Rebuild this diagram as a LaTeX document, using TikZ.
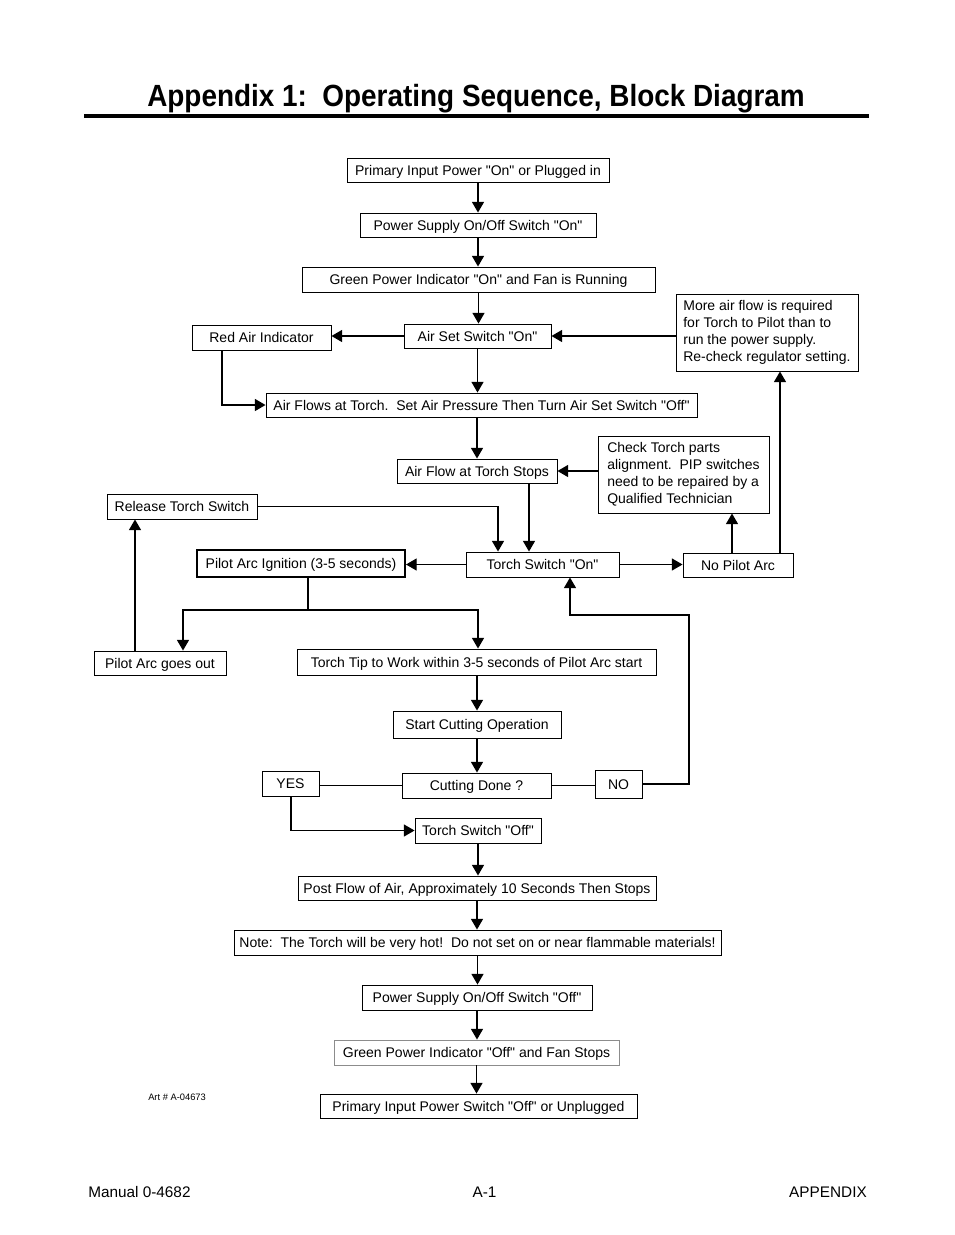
\documentclass[tikz,border=0pt]{standalone}
\usepackage{fontspec}
\setmainfont{Liberation Sans}
\newfontfamily\lsans{Liberation Sans}
\usetikzlibrary{arrows.meta,calc}
\frenchspacing
\begin{document}
\begin{tikzpicture}[x=0.75pt,y=-0.75pt,
  base/.style={draw,line width=0.7pt,inner sep=0pt,font=\lsans\fontsize{10.5}{12.75}\selectfont},
  box/.style={base,text height=7.6pt,text depth=0pt},
  wh/.style 2 args={minimum width=#1*0.75pt,minimum height=#2*0.75pt},
  multi/.style={base,align=left,inner xsep=4pt},
  arr/.style={-{Triangle[length=8pt,width=9pt]},line width=1pt},
  ln/.style={line width=1pt}]
\useasboundingbox (0,0) rectangle (954,1235);
% title
\node[anchor=base west,inner sep=0pt,font=\lsans\fontsize{23}{26}\selectfont\bfseries] (title) at (147,106)
  {\scalebox{0.91}[1]{Appendix 1:\ \ Operating Sequence, Block Diagram}};
\draw[line width=2.3pt] (84,116) -- (869,116);
% nodes
\node[box,wh={262}{24}] (n1) at (478,170) {Primary Input Power "On" or Plugged in};
\node[box,wh={236}{24}] (n2) at (478,225) {Power Supply On/Off Switch "On"};
\node[box,wh={353}{25}] (n3) at (478.5,279.5) {Green Power Indicator "On" and Fan is Running};
\node[box,wh={147}{24}] (n4) at (477.5,336) {Air Set Switch "On"};
\node[box,wh={139}{25}] (red) at (261.5,337.5) {Red Air Indicator};
\node[multi,wh={182}{77}] (more) at (767,332.5) {More air flow is required\\for Torch to Pilot than to\\run the power supply.\\Re-check regulator setting.};
\node[box,wh={431}{24}] (n7) at (481.5,405) {Air Flows at Torch.\ \ Set Air Pressure Then Turn Air Set Switch "Off"};
\node[box,wh={160}{24}] (stops) at (477,471) {Air Flow at Torch Stops};
\node[multi,wh={171}{77}] (check) at (683.5,474.5) {Check Torch parts\\alignment.\ \ PIP switches\\need to be repaired by a\\Qualified Technician};
\node[box,wh={150}{25}] (release) at (182,506.5) {Release Torch Switch};
\node[box,line width=1.5pt,wh={208}{27}] (pilot) at (301,563.5) {Pilot Arc Ignition (3-5 seconds)};
\node[box,wh={153}{25}] (tson) at (542.5,564.5) {Torch Switch "On"};
\node[box,wh={110}{24}] (nopilot) at (738,565) {No Pilot Arc};
\node[box,wh={132}{24}] (out) at (160,663) {Pilot Arc goes out};
\node[box,wh={359}{26}] (tip) at (476.5,662) {Torch Tip to Work within 3-5 seconds of Pilot Arc start};
\node[box,wh={168}{27}] (start) at (477,724.5) {Start Cutting Operation};
\node[box,wh={149}{25}] (done) at (476.5,785.5) {Cutting Done ?};
\node[box,wh={57}{25}] (yes) at (290.5,783.5) {YES};
\node[box,wh={47}{28}] (no) at (618.5,784) {NO};
\node[box,wh={126}{25}] (tsoff) at (478,830.5) {Torch Switch "Off"};
\node[box,wh={358}{24}] (post) at (477,888) {Post Flow of Air, Approximately 10 Seconds Then Stops};
\node[box,wh={487}{25}] (note) at (477.5,942.5) {Note:\ \ The Torch will be very hot!\ \ Do not set on or near flammable materials!};
\node[box,wh={230}{25}] (psoff) at (477,997.5) {Power Supply On/Off Switch "Off"};
\node[box,draw=black!45,wh={285}{25}] (gfoff) at (476.5,1052.5) {Green Power Indicator "Off" and Fan Stops};
\node[box,wh={317}{24}] (prim2) at (478.5,1106) {Primary Input Power Switch "Off" or Unplugged};
\node[anchor=base west,inner sep=0pt,font=\lsans\fontsize{7}{8}\selectfont] (art) at (148,1100) {Art \# A-04673};
% footer
\node[anchor=base west,inner sep=0pt,font=\lsans\fontsize{11.5}{13}\selectfont] (f1) at (88,1197) {Manual 0-4682};
\node[anchor=base,inner sep=0pt,font=\lsans\fontsize{11.5}{13}\selectfont] (f2) at (484.5,1197) {A-1};
\node[anchor=base east,inner sep=0pt,font=\lsans\fontsize{11.5}{13}\selectfont] (f3) at (867,1197) {APPENDIX};
% helper coordinates
\coordinate (c1) at (222,0);
\coordinate (c2) at (529,0);
\coordinate (c3) at (498,0);
\coordinate (c4) at (732,0);
\coordinate (c5) at (780,0);
\coordinate (c6) at (308,610);
\coordinate (c7) at (183,0);
\coordinate (c8) at (478,0);
\coordinate (c9) at (135,0);
\coordinate (c10) at (689,615);
\coordinate (c11) at (570,0);
\coordinate (c12) at (291,0);
% connectors
\draw[arr] (n1.south) -- (n1.south |- n2.north);
\draw[arr] (n2.south) -- (n2.south |- n3.north);
\draw[arr] (n3.south) -- (n3.south |- n4.north);
\draw[arr] (n4.south) -- (n4.south |- n7.north);
\draw[arr] (n4.west) -- (n4.west -| red.east);
\draw[arr] (n4.east -| more.west) -- (n4.east);
\draw[arr] (red.south -| c1) |- (n7.west);
\draw[arr] (stops.north |- n7.south) -- (stops.north);
\draw[arr] (check.west |- stops.east) -- (stops.east);
\draw[arr] (stops.south -| c2) -- (tson.north -| c2);
\draw[arr] (release.east) -| (tson.north -| c3);
\draw[arr] (tson.west) -- (tson.west -| pilot.east);
\draw[arr] (tson.east) -- (tson.east -| nopilot.west);
\draw[arr] (nopilot.north -| c4) -- (check.south -| c4);
\draw[arr] (nopilot.north -| c5) -- (more.south -| c5);
\draw[ln] (pilot.south -| c6) -- (c6);
\draw[arr] (c6) -| (out.north -| c7);
\draw[arr] (c6) -| (tip.north -| c8);
\draw[arr] (out.north -| c9) -- (release.south -| c9);
\draw[arr] (start.north |- tip.south) -- (start.north);
\draw[arr] (start.south) -- (start.south |- done.north);
\draw[ln] (done.west) -- (done.west -| yes.east);
\draw[ln] (done.east) -- (done.east -| no.west);
\draw[arr] (no.east) -| (c10) -| (tson.south -| c11);
\draw[arr] (yes.south -| c12) |- (tsoff.west);
\draw[arr] (tsoff.south) -- (tsoff.south |- post.north);
\draw[arr] (post.south) -- (post.south |- note.north);
\draw[arr] (note.south) -- (note.south |- psoff.north);
\draw[arr] (psoff.south) -- (psoff.south |- gfoff.north);
\draw[arr] (gfoff.south) -- (gfoff.south |- prim2.north);
\end{tikzpicture}
\end{document}
